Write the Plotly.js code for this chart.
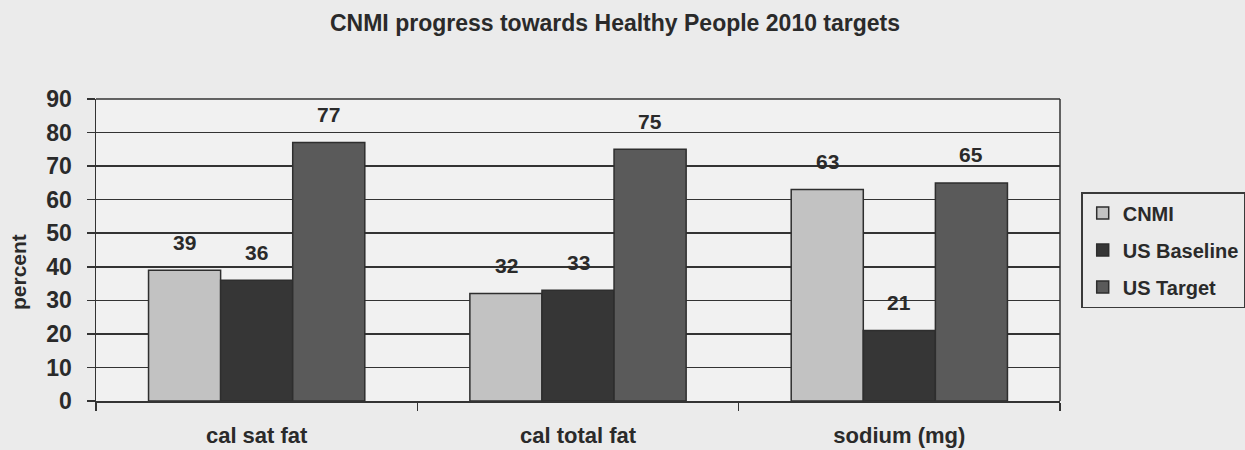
<!DOCTYPE html>
<html>
<head>
<meta charset="utf-8">
<script src="https://cdn.plot.ly/plotly-3.0.1.min.js"></script>
<style>
html,body{margin:0;padding:0;background:#ebebeb;}
#chart{width:1245px;height:450px;}
</style>
</head>
<body>
<div id="chart"></div>
<script>
const categories = ["cal sat fat", "cal total fat", "sodium (mg)"];
const seriesNames = ["CNMI", "US Baseline", "US Target"];
const cnmi = [39, 32, 63];
const usBaseline = [36, 33, 21];
const usTarget = [77, 75, 65];
const yTicks = [0, 10, 20, 30, 40, 50, 60, 70, 80, 90];

const colors = ["#c2c2c2", "#363636", "#5a5a5a"];
const seriesValues = [cnmi, usBaseline, usTarget];
const FONT = "Liberation Sans, Arial, sans-serif";
const TXT = "#2a2a2a";

const traces = seriesValues.map((vals, i) => ({
  type: "bar",
  name: seriesNames[i],
  legendgroup: "g" + i,
  x: categories,
  y: vals,
  marker: {color: colors[i], line: {color: "#2e2e2e", width: 1.5}},
  hoverinfo: "none"
}));

const barPx = 72;
const annotations = [];
seriesValues.forEach((vals, i) => {
  vals.forEach((v, j) => {
    annotations.push({
      x: categories[j], y: v, xref: "x", yref: "y",
      text: "<b>" + v + "</b>", showarrow: false,
      xshift: (i - 1) * barPx, yshift: 28,
      font: {family: FONT, size: 21, color: TXT}
    });
  });
});
annotations.push({
  xref: "paper", yref: "paper", x: 0, y: 0.427,
  xanchor: "center", yanchor: "middle", xshift: -78,
  text: "<b>percent</b>", textangle: -90, showarrow: false,
  font: {family: FONT, size: 21, color: TXT}
});

const layout = {
  width: 1245, height: 450,
  paper_bgcolor: "#ebebeb",
  plot_bgcolor: "#f1f1f1",
  margin: {l: 96, r: 185, t: 99, b: 49, autoexpand: false},
  barmode: "group",
  bargap: 0.327,
  bargroupgap: 0,
  title: {
    text: "<b>CNMI progress towards Healthy People 2010 targets</b>",
    x: 0.494, xanchor: "center", y: 0.949, yanchor: "middle",
    font: {family: FONT, size: 23, color: TXT}
  },
  xaxis: {
    type: "category",
    tickson: "boundaries",
    ticks: "outside", ticklen: 8, tickcolor: "#333", tickwidth: 1.5,
    showline: true, linecolor: "#333", linewidth: 1.5,
    tickfont: {family: FONT, size: 22, color: TXT, weight: "bold"},
    ticklabelstandoff: 14,
    showgrid: false,
    automargin: false
  },
  yaxis: {
    range: [0, 90],
    tickvals: yTicks,
    ticks: "outside", ticklen: 8, tickcolor: "#333", tickwidth: 1.5,
    showline: true, linecolor: "#333", linewidth: 1.5,
    showgrid: true, gridcolor: "#333", gridwidth: 1.5,
    zeroline: false,
    tickfont: {family: FONT, size: 23, color: TXT, weight: "bold"},
    ticklabelstandoff: 10,
    automargin: false
  },
  shapes: [
    {type: "line", xref: "paper", yref: "paper", x0: 1, x1: 1, y0: 0, y1: 1, line: {color: "#333", width: 1.5}},
    {type: "line", xref: "paper", yref: "paper", x0: 0, x1: 1, y0: 1, y1: 1, line: {color: "#333", width: 1.5}}
  ],
  legend: {
    x: 1.022, xanchor: "left", y: 0.692, yanchor: "top",
    bgcolor: "rgba(0,0,0,0)", bordercolor: "#3a3a3a", borderwidth: 1.5,
    font: {family: FONT, size: 20, color: TXT, weight: "bold"},
    tracegroupgap: 8, itemwidth: 30
  },
  annotations: annotations,
  showlegend: true
};

Plotly.newPlot("chart", traces, layout, {displayModeBar: false, staticPlot: true});
</script>
</body>
</html>
